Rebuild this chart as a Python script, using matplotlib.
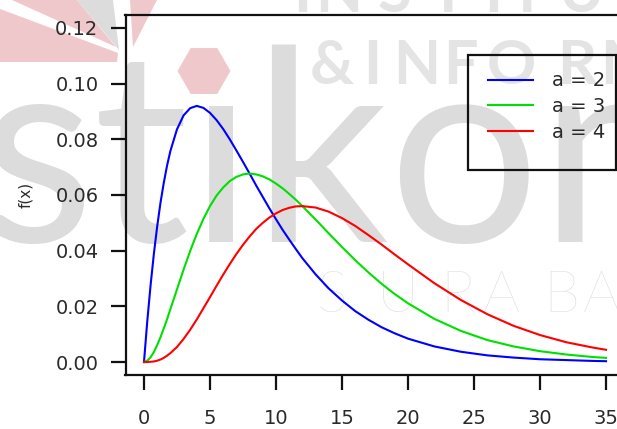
import matplotlib
matplotlib.use("Agg")
import matplotlib.pyplot as plt
from matplotlib.patches import Polygon, RegularPolygon, Rectangle
from matplotlib.lines import Line2D
import numpy as np

x_vals = [0, 0.25, 0.5, 0.75, 1, 1.25, 1.5, 1.75, 2, 2.5, 3, 3.5, 4, 4.5, 5, 5.5, 6,
          6.5, 7, 7.5, 8, 8.5, 9, 9.5, 10, 10.5, 11, 11.5, 12, 13, 14, 15, 16, 17,
          18, 19, 20, 22, 24, 26, 28, 30, 32, 34, 35]
dens_a2 = [0, 0.0147, 0.0276, 0.0389, 0.0487, 0.0572, 0.0644, 0.0706, 0.0758, 0.0836,
           0.0886, 0.0912, 0.0920, 0.0913, 0.0895, 0.0869, 0.0837, 0.0800, 0.0760,
           0.0719, 0.0677, 0.0634, 0.0593, 0.0552, 0.0513, 0.0475, 0.0440, 0.0406,
           0.0373, 0.0315, 0.0264, 0.0221, 0.0183, 0.0152, 0.0125, 0.0103, 0.0084,
           0.0056, 0.0037, 0.0024, 0.0016, 0.0010, 0.0007, 0.0004, 0.0003]
dens_a3 = [0, 0.0005, 0.0017, 0.0036, 0.0061, 0.0089, 0.0121, 0.0154, 0.0190, 0.0261,
           0.0332, 0.0399, 0.0460, 0.0514, 0.0560, 0.0598, 0.0627, 0.0650, 0.0665,
           0.0674, 0.0677, 0.0674, 0.0667, 0.0656, 0.0641, 0.0624, 0.0604, 0.0583,
           0.0560, 0.0512, 0.0462, 0.0413, 0.0366, 0.0322, 0.0281, 0.0244, 0.0211,
           0.0155, 0.0112, 0.0079, 0.0056, 0.0039, 0.0027, 0.0018, 0.0015]
dens_a4 = [0, 0.0000, 0.0001, 0.0002, 0.0005, 0.0009, 0.0015, 0.0023, 0.0032, 0.0054,
           0.0083, 0.0116, 0.0153, 0.0193, 0.0233, 0.0274, 0.0314, 0.0352, 0.0388,
           0.0421, 0.0451, 0.0478, 0.0500, 0.0519, 0.0534, 0.0546, 0.0554, 0.0559,
           0.0560, 0.0555, 0.0540, 0.0517, 0.0489, 0.0456, 0.0422, 0.0386, 0.0351,
           0.0283, 0.0223, 0.0172, 0.0130, 0.0097, 0.0071, 0.0052, 0.0044]
labels = ["a = 2", "a = 3", "a = 4"]
colors = ["#0000ff", "#00e000", "#ff0000"]
x_ticks = [0, 5, 10, 15, 20, 25, 30, 35]
y_ticks = [0.00, 0.02, 0.04, 0.06, 0.08, 0.10, 0.12]

W, H = 617, 429
fig = plt.figure(figsize=(W / 100, H / 100), dpi=100)
tr = fig.dpi_scale_trans


def px(x, y):
    # pixel position from top-left -> inches for dpi_scale_trans
    return (x / 100, (H - y) / 100)


# --- background logo ---
grey = "#dcdcdc"
pink = "#efc8cc"
for pts, c in [([(0, 9), (118, 53), (117, 62), (0, 62)], pink),
               ([(12, 0), (77, 0), (116, 47)], pink),
               ([(77, 0), (113, 0), (119, 50)], grey),
               ([(130, 0), (157, 0), (133, 47)], pink)]:
    fig.add_artist(Polygon([px(*p) for p in pts], closed=True, transform=tr,
                           facecolor=c, edgecolor="none", zorder=-3))
fig.add_artist(RegularPolygon(px(204, 71), 6, radius=0.265, orientation=np.pi / 6,
                              transform=tr, facecolor=pink, edgecolor="none", zorder=-3))
fig.text(*px(-22, 242), "st\u0131kom", transform=tr, fontsize=192, family="Lato",
         weight="normal", color=grey, va="baseline", ha="left", zorder=-3)
for ch, xl in zip("INSTITUT", [293, 315, 378, 429, 484, 508, 559, 606]):
    fig.text(*px(xl, 12), ch, transform=tr, fontsize=44, family="Lato", weight="bold",
             color="#e4e4e4", va="baseline", ha="left", zorder=-3)
for ch, xl in zip("&INFORM", [310, 363, 393, 443, 487, 557, 600]):
    fig.text(*px(xl, 84), ch, transform=tr, fontsize=44, family="Lato", weight="bold",
             color="#e4e4e4", va="baseline", ha="left", zorder=-3)
for ch, xl in zip("SURABAYA", [317, 377, 440, 483, 543, 583, 640, 700]):
    fig.text(*px(xl, 312), ch, transform=tr, fontsize=42, family="Lato", weight="light",
             color="#dedede", va="baseline", ha="left", zorder=-3)

# --- plot ---
ax = fig.add_axes([125.5 / W, (H - 375.4) / H, 499 / W, 360.8 / H])
ax.set_facecolor("none")
for dens, c, lab in zip([dens_a2, dens_a3, dens_a4], colors, labels):
    ax.plot(x_vals, dens, color=c, lw=1.5, label=lab)

ax.set_xlim(-1.4, 36.4)
ax.set_ylim(-0.0048, 0.1248)
ax.set_xticks(x_ticks)
ax.set_yticks(y_ticks)
ax.set_yticklabels(["%.2f" % v for v in y_ticks])
for s in ax.spines.values():
    s.set_linewidth(1.6)
    s.set_color("#111111")
ax.tick_params(direction="out", length=10.5, width=1.6, colors="#111111",
               labelcolor="#2a2a2a", labelsize=14)
ax.tick_params(axis="y", pad=9)
ax.tick_params(axis="x", pad=13.5)
ax.set_ylabel("f(x)", fontsize=11, color="#2a2a2a")
ax.yaxis.set_label_coords(-0.185, 0.5)

# legend box
fig.add_artist(Rectangle(px(468, 170), 1.48, 1.15, transform=tr, facecolor="none",
                         edgecolor="#111111", lw=1.6, zorder=5))
handles = [Line2D([], [], color=c, lw=1.5) for c in colors]
ax.legend(handles, labels, loc="upper left", bbox_to_anchor=px(488, 71.5),
          bbox_transform=tr, frameon=False, borderpad=0, borderaxespad=0,
          handlelength=2.3, handletextpad=1.0, labelspacing=0.35, fontsize=14,
          labelcolor="#2a2a2a")

fig.savefig("out.png", dpi=100)
